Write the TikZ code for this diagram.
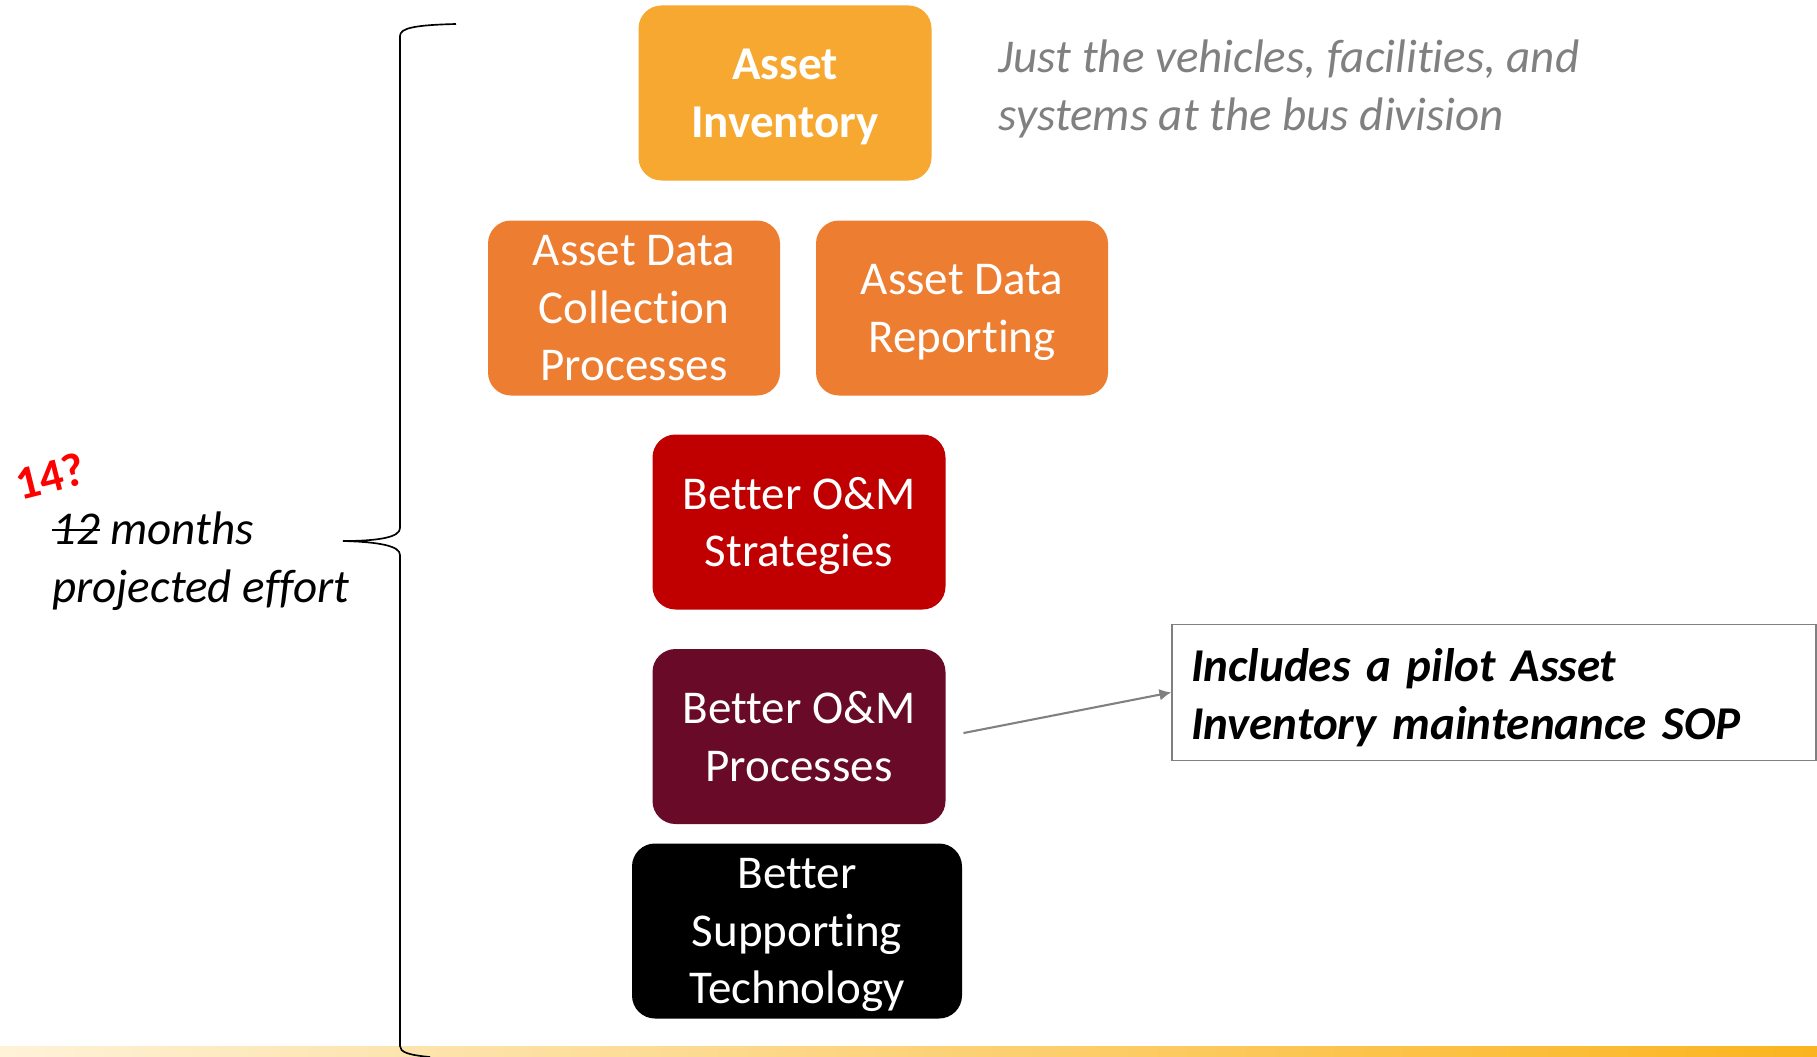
\documentclass[tikz,border=0pt]{standalone}
\usepackage{fontspec}
\setmainfont[Ligatures=NoCommon]{Carlito}
\usepackage{tikz}
\usetikzlibrary{arrows.meta}
\definecolor{invorange}{RGB}{246,168,48}
\definecolor{dataorange}{RGB}{237,125,49}
\definecolor{stratred}{RGB}{192,0,0}
\definecolor{procwine}{RGB}{104,10,40}
\definecolor{notegray}{RGB}{128,128,128}
\definecolor{barlight}{RGB}{254,242,216}
\definecolor{barmid}{RGB}{255,212,110}
\definecolor{barorange}{RGB}{251,180,30}
\newcommand{\struck}[1]{\setbox0\hbox{#1}\rlap{\raisebox{0.28em}{\rule{\wd0}{1.6pt}}}\box0\relax}
\tikzset{>={Latex[width=3mm,length=3mm]}}
\tikzset{
  bigfont/.style={font=\fontsize{34}{41.8}\selectfont},
  stage/.style={shape=rectangle,rounded corners=0.23in,minimum height=1.75in,minimum width=2.93in,inner sep=0pt,text depth=0pt,align=center,text=white,bigfont},
  callout/.style={shape=rectangle,draw=notegray,line width=1.1pt,fill=white,minimum height=1.36in,text width=6.06in,inner xsep=0.19in,align=left,bigfont},
  pointer/.style={->,draw=notegray,line width=1.5pt},
}

\begin{document}
\begin{tikzpicture}

\useasboundingbox (0in,0in) rectangle (18.17in,-10.57in);

\shade[left color=barlight,middle color=barmid,right color=barorange] (0in,-10.46in) rectangle (18.17in,-10.57in);

\path (7.85in,-0.93in) node (inv) [stage,fill=invorange]{\textbf{Asset}\\\textbf{Inventory}};

\path (6.34in,-3.08in) node (collect) [stage,fill=dataorange,minimum width=2.92in]{Asset Data\\Collection\\Processes};

\path (9.62in,-3.08in) node (report) [stage,fill=dataorange,minimum width=2.92in]{Asset Data\\Reporting};

\path (7.99in,-5.22in) node (strat) [stage,fill=stratred]{Better O\&M\\Strategies};

\path (7.99in,-7.365in) node (proc) [stage,fill=procwine]{Better O\&M\\Processes};

\path (7.97in,-9.31in) node (tech) [stage,fill=black,minimum width=3.30in]{Better\\Supporting\\Technology};

\path (9.985in,-0.89in) node (scope) [anchor=west,align=left,inner sep=0pt,text=notegray,bigfont]{\itshape Just the vehicles, facilities, and\\\itshape systems at the bus division};

\path (14.94in,-6.924in) node (note) [callout]{\rule{0pt}{32pt}\bfseries\itshape Includes a pilot Asset\\\bfseries\itshape Inventory maintenance SOP};

\path (0.52in,-5.61in) node (effort) [anchor=west,align=left,inner sep=0pt,bigfont]{\itshape\struck{12} months\\\itshape projected effort};

\path (0.50in,-4.76in) node (revised) [rotate=14,text=red,inner sep=0pt,bigfont]{\bfseries 14?};

\draw[pointer,shorten <=0.18in] (proc.east) -- (note.west);

% brace
\draw[line width=1.2pt] (4.56in,-0.24in) .. controls (4.15in,-0.25in) and (4.00in,-0.28in) .. (4.00in,-0.36in)
  -- (4.00in,-5.28in) .. controls (4.00in,-5.37in) and (3.80in,-5.41in) .. (3.43in,-5.41in)
  .. controls (3.80in,-5.42in) and (4.00in,-5.46in) .. (4.00in,-5.55in)
  -- (4.00in,-10.46in) .. controls (4.00in,-10.52in) and (4.08in,-10.55in) .. (4.30in,-10.57in);

\end{tikzpicture}
\end{document}
